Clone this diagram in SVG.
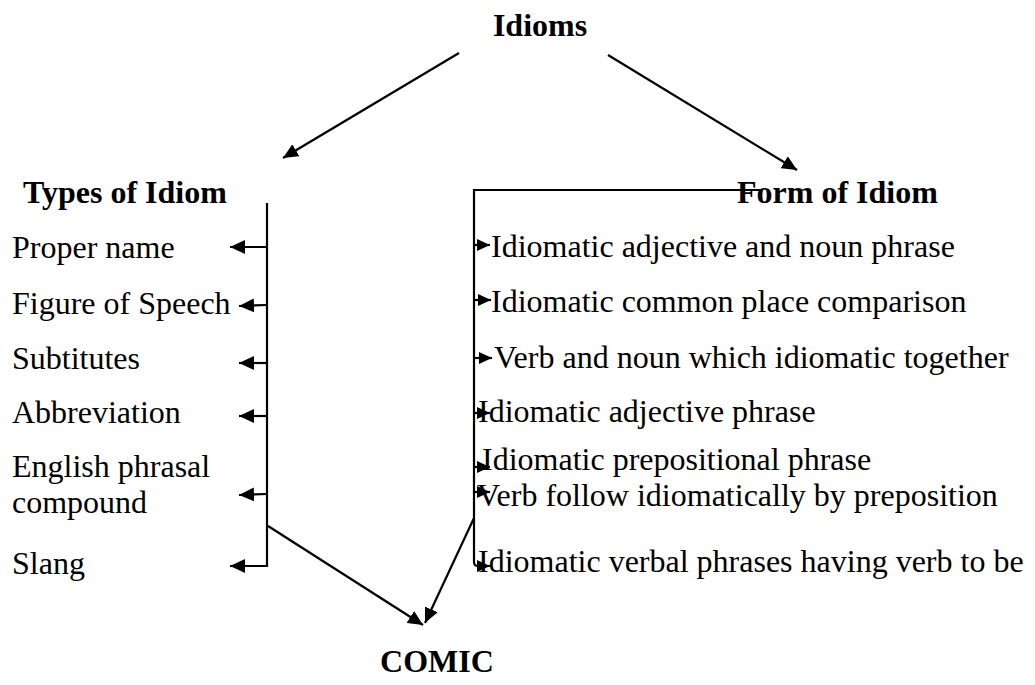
<svg xmlns="http://www.w3.org/2000/svg" width="1035" height="685" viewBox="0 0 1035 685">
<style>
text{font-family:"Liberation Serif","Times New Roman",serif;font-size:32px;fill:#000}
.b{font-weight:bold}
.ln{stroke:#000;stroke-width:2.2;fill:none}
</style>
<defs>
<marker id="big" viewBox="0 0 10 10" refX="10" refY="5" markerWidth="15" markerHeight="14" orient="auto" markerUnits="userSpaceOnUse" preserveAspectRatio="none"><path d="M0,0L10,5L0,10z" fill="#000"/></marker>
<marker id="sm" viewBox="0 0 10 10" refX="10" refY="5" markerWidth="13" markerHeight="12" orient="auto" markerUnits="userSpaceOnUse" preserveAspectRatio="none"><path d="M0,0L10,5L0,10z" fill="#000"/></marker>
</defs>
<g id="connectors">
<line class="ln" x1="459" y1="53" x2="283" y2="158" marker-end="url(#big)"/>
<line class="ln" x1="608" y1="55" x2="797" y2="170" marker-end="url(#big)"/>
<path class="ln" d="M267,203V566H230" marker-end="url(#big)"/>
<line class="ln" x1="267" y1="247" x2="230" y2="247" marker-end="url(#big)"/>
<line class="ln" x1="267" y1="305" x2="239" y2="306" marker-end="url(#big)"/>
<line class="ln" x1="267" y1="363" x2="239" y2="363" marker-end="url(#big)"/>
<line class="ln" x1="267" y1="416" x2="239" y2="416" marker-end="url(#big)"/>
<line class="ln" x1="267" y1="494" x2="239" y2="495" marker-end="url(#big)"/>
<path class="ln" d="M760,190H474V562Q474,566 478,566H490" marker-end="url(#sm)"/>
<line class="ln" x1="474" y1="245" x2="490" y2="245" marker-end="url(#sm)"/>
<line class="ln" x1="474" y1="300" x2="491" y2="300" marker-end="url(#sm)"/>
<line class="ln" x1="474" y1="358" x2="492" y2="358" marker-end="url(#sm)"/>
<line class="ln" x1="474" y1="413" x2="490" y2="413" marker-end="url(#sm)"/>
<line class="ln" x1="474" y1="467" x2="490" y2="467" marker-end="url(#sm)"/>
<line class="ln" x1="474" y1="492" x2="490" y2="492" marker-end="url(#sm)"/>
<line class="ln" x1="268" y1="526" x2="423" y2="625" marker-end="url(#big)"/>
<line class="ln" x1="474" y1="518" x2="425" y2="623" marker-end="url(#big)"/>
</g>
<g id="idioms"><text class="b" x="540" y="36" text-anchor="middle">Idioms</text></g>
<g id="types"><text class="b" x="23" y="203">Types of Idiom</text></g>
<g id="form"><text class="b" x="737" y="203">Form of Idiom</text></g>
<g id="comic"><text class="b" x="437" y="672" text-anchor="middle">COMIC</text></g>
<g id="left-items">
<text x="12" y="258">Proper name</text>
<text x="12" y="314">Figure of Speech</text>
<text x="12" y="369">Subtitutes</text>
<text x="12" y="423">Abbreviation</text>
<text x="12" y="477">English phrasal</text>
<text x="12" y="513">compound</text>
<text x="12" y="574">Slang</text>
</g>
<g id="right-items">
<text x="491" y="257">Idiomatic adjective and noun phrase</text>
<text x="491" y="312">Idiomatic common place comparison</text>
<text x="494" y="368">Verb and noun which idiomatic together</text>
<text x="478" y="422">Idiomatic adjective phrase</text>
<text x="482" y="470">Idiomatic prepositional phrase</text>
<text x="477" y="506">Verb follow idiomatically by preposition</text>
<text x="478" y="572">Idiomatic verbal phrases having verb to be</text>
</g>
</svg>
